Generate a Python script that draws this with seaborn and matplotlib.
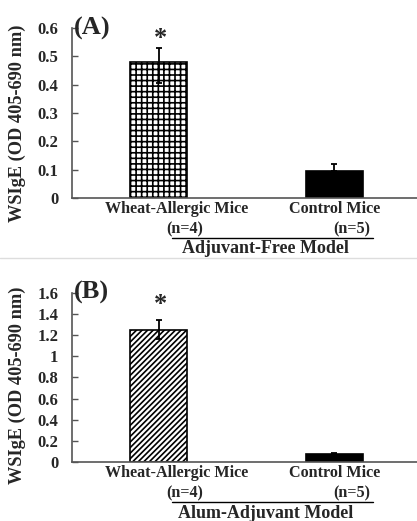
import numpy as np
import matplotlib
matplotlib.use('Agg')
import matplotlib.pyplot as plt
import matplotlib.ticker as mticker
import seaborn as sns

groups = ['Wheat-Allergic Mice', 'Control Mice']
n_labels = ['(n=4)', '(n=5)']

# panel A: adjuvant-free model
a_values = [0.48, 0.095]
a_err_low = [0.405, 0.095]
a_err_high = [0.53, 0.12]
a_ticks = [0, 0.1, 0.2, 0.3, 0.4, 0.5, 0.6]

# panel B: alum-adjuvant model
b_values = [1.25, 0.075]
b_err_low = [1.16, 0.075]
b_err_high = [1.34, 0.09]
b_ticks = [0, 0.2, 0.4, 0.6, 0.8, 1.0, 1.2, 1.4, 1.6]

sns.set_style('white')
plt.rcParams['font.family'] = ['Liberation Serif', 'DejaVu Serif']
plt.rcParams['font.weight'] = 'bold'
plt.rcParams['hatch.linewidth'] = 1.2

fig = plt.figure(figsize=(4.17, 5.21), dpi=100)
ax_a = fig.add_axes([0.173, 0.620, 0.827, 0.326])
ax_b = fig.add_axes([0.173, 0.113, 0.827, 0.325])


def draw_panel(ax, values, lo, hi, ticks, hatch, tag, model, star_y, ylab_y):
    sns.barplot(x=groups, y=values, ax=ax, width=0.324, color='white',
                edgecolor='black', linewidth=1.2)
    ax.patches[0].set_hatch(hatch)
    ax.patches[0].set_facecolor('white')
    ax.patches[1].set_facecolor('black')
    yerr = [np.array(values) - np.array(lo), np.array(hi) - np.array(values)]
    ax.errorbar([0, 1], values, yerr=yerr, fmt='none', ecolor='black',
                elinewidth=1.3, capsize=2.5, capthick=1.3)
    ax.set_xlim(-0.491, 1.469)
    ax.set_ylim(0, ticks[-1])
    ax.set_yticks(ticks)
    ax.yaxis.set_major_formatter(mticker.FuncFormatter(lambda v, p: f'{v:g}'))
    ax.tick_params(axis='y', direction='in', length=4, width=1, color='#555555',
                   pad=10, labelsize=12, left=True)
    ax.set_xticks([])
    ax.set_xlabel('')
    for s in ['top', 'right']:
        ax.spines[s].set_visible(False)
    for s in ['left', 'bottom']:
        ax.spines[s].set_color('#555555')
        ax.spines[s].set_linewidth(1.2)
    ax.set_ylabel('WSIgE (OD 405-690 nm)', fontsize=13.2, fontweight='bold')
    ax.yaxis.set_label_coords(-0.133, ylab_y)

    ax.text(0.005, 1.0, tag, transform=ax.transAxes, fontsize=19,
            fontweight='bold', va='center', ha='left')
    ax.text(0.01, star_y, '*', fontsize=19, fontweight='bold',
            ha='center', va='center')

    tr = ax.get_xaxis_transform()
    ax.annotate(groups[0], xy=(0.1, 0), xycoords=tr, xytext=(0, -11),
                textcoords='offset pixels', ha='center', va='center', fontsize=11.6)
    ax.annotate(groups[1], xy=(1.0, 0), xycoords=tr, xytext=(0, -11),
                textcoords='offset pixels', ha='center', va='center', fontsize=11.6)
    ax.annotate(n_labels[0], xy=(0.15, 0), xycoords=tr, xytext=(0, -31),
                textcoords='offset pixels', ha='center', va='center', fontsize=11.6)
    ax.annotate(n_labels[1], xy=(1.1, 0), xycoords=tr, xytext=(0, -31),
                textcoords='offset pixels', ha='center', va='center', fontsize=11.6)
    ax.plot([0.077, 1.22], [-0.235, -0.235], transform=tr, color='black',
            lw=1.0, clip_on=False)
    ax.annotate(model, xy=(0.61, 0), xycoords=tr, xytext=(0, -51),
                textcoords='offset pixels', ha='center', va='center', fontsize=13)


draw_panel(ax_a, a_values, a_err_low, a_err_high, a_ticks, '+++', '(A)',
           'Adjuvant-Free Model', 0.565, 0.44)
draw_panel(ax_b, b_values, b_err_low, b_err_high, b_ticks, '//////', '(B)',
           'Alum-Adjuvant Model', 1.49, 0.456)

# faint separator between the two panels
fig.add_artist(plt.Line2D([0, 1], [1 - 258 / 521, 1 - 258 / 521],
                          transform=fig.transFigure, color='#dddddd', lw=1))

fig.savefig('out.png', dpi=100)
